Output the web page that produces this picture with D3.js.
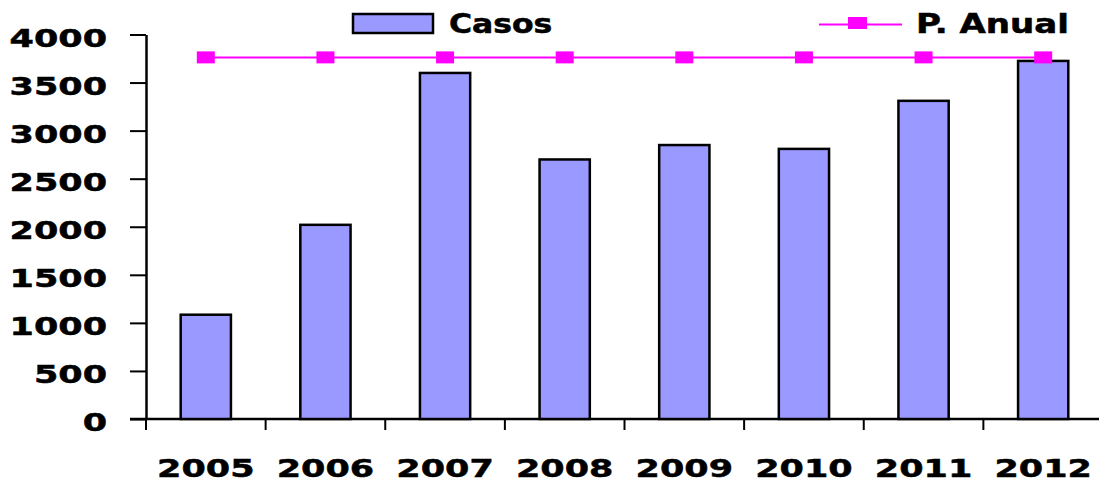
<!DOCTYPE html>
<html>
<head>
<meta charset="utf-8">
<script src="https://cdn.jsdelivr.net/npm/d3@7"></script>
<style>
  html, body { margin: 0; padding: 0; background: #fff; }
  svg { display: block; }
  text { font-family: "DejaVu Sans", Verdana, sans-serif; font-weight: bold; fill: #000; stroke: #000; stroke-width: 0.5px; }
</style>
</head>
<body>
<svg id="chart" width="1099" height="482"></svg>
<script>
const years = ["2005", "2006", "2007", "2008", "2009", "2010", "2011", "2012"];
const casos = [1085, 2020, 3600, 2700, 2850, 2810, 3310, 3725];
const pAnual = [3762, 3762, 3762, 3762, 3762, 3762, 3762, 3762];
const yTicks = [0, 500, 1000, 1500, 2000, 2500, 3000, 3500, 4000];

const svg = d3.select("#chart");
const margin = { left: 146, right: 1103, top: 34.5, bottom: 419 };
const stretch = 1.4;

const x = d3.scaleBand().domain(years).range([margin.left, margin.right]).paddingInner(0.58).paddingOuter(0.29);
const y = d3.scaleLinear().domain([0, 4000]).range([margin.bottom, margin.top]);

// y axis
const yAxisG = svg.append("g")
  .attr("transform", `translate(${margin.left},0)`)
  .call(d3.axisLeft(y).tickValues(yTicks).tickSize(16).tickSizeOuter(0).tickFormat(""));
yAxisG.select(".domain").attr("stroke", "#000").attr("stroke-width", 2.5);
yAxisG.selectAll(".tick line").attr("stroke", "#000").attr("stroke-width", 2);

svg.append("g").selectAll("text")
  .data(yTicks)
  .join("text")
  .attr("text-anchor", "end")
  .attr("font-size", 25)
  .attr("transform", d => `translate(107,${y(d) + 12}) scale(${stretch},1)`)
  .text(d => d);

// x axis line and boundary ticks
svg.append("line")
  .attr("x1", margin.left - 16).attr("x2", margin.right)
  .attr("y1", margin.bottom).attr("y2", margin.bottom)
  .attr("stroke", "#000").attr("stroke-width", 2.5);

const bounds = d3.range(years.length + 1).map(i => margin.left + i * x.step());
svg.append("g").selectAll("line")
  .data(bounds)
  .join("line")
  .attr("x1", d => d).attr("x2", d => d)
  .attr("y1", margin.bottom).attr("y2", margin.bottom + 11)
  .attr("stroke", "#000").attr("stroke-width", 2);

svg.append("g").selectAll("text")
  .data(years)
  .join("text")
  .attr("text-anchor", "middle")
  .attr("font-size", 25)
  .attr("transform", d => `translate(${x(d) + x.bandwidth() / 2},477) scale(${stretch},1)`)
  .text(d => d);

// bars
svg.append("g").selectAll("rect")
  .data(years.map((yr, i) => ({ yr, v: casos[i] })))
  .join("rect")
  .attr("x", d => x(d.yr))
  .attr("y", d => y(d.v))
  .attr("width", x.bandwidth())
  .attr("height", d => y(0) - y(d.v))
  .attr("fill", "#9999FF")
  .attr("stroke", "#000")
  .attr("stroke-width", 2.5);

// P. Anual line
const cx = d => x(d) + x.bandwidth() / 2;
const pts = years.map((yr, i) => [cx(yr), y(pAnual[i])]);
svg.append("path")
  .datum(pts)
  .attr("fill", "none")
  .attr("stroke", "#FF00FF")
  .attr("stroke-width", 2)
  .attr("d", d3.line());
svg.append("g").selectAll("rect")
  .data(pts)
  .join("rect")
  .attr("x", d => d[0] - 9)
  .attr("y", d => d[1] - 6)
  .attr("width", 18)
  .attr("height", 12)
  .attr("fill", "#FF00FF");

// legend
const legend = svg.append("g");
legend.append("rect")
  .attr("x", 353).attr("y", 14).attr("width", 80).attr("height", 19)
  .attr("fill", "#9999FF").attr("stroke", "#000").attr("stroke-width", 2.5);
legend.append("text")
  .attr("font-size", 26)
  .attr("transform", "translate(449,33) scale(1.21,1)")
  .text("Casos");
legend.append("line")
  .attr("x1", 819).attr("x2", 902).attr("y1", 24.5).attr("y2", 24.5)
  .attr("stroke", "#FF00FF").attr("stroke-width", 2);
legend.append("rect")
  .attr("x", 848).attr("y", 17).attr("width", 19).attr("height", 12)
  .attr("fill", "#FF00FF");
legend.append("text")
  .attr("font-size", 26)
  .attr("transform", "translate(916,33) scale(1.31,1)")
  .text("P. Anual");
</script>
</body>
</html>
